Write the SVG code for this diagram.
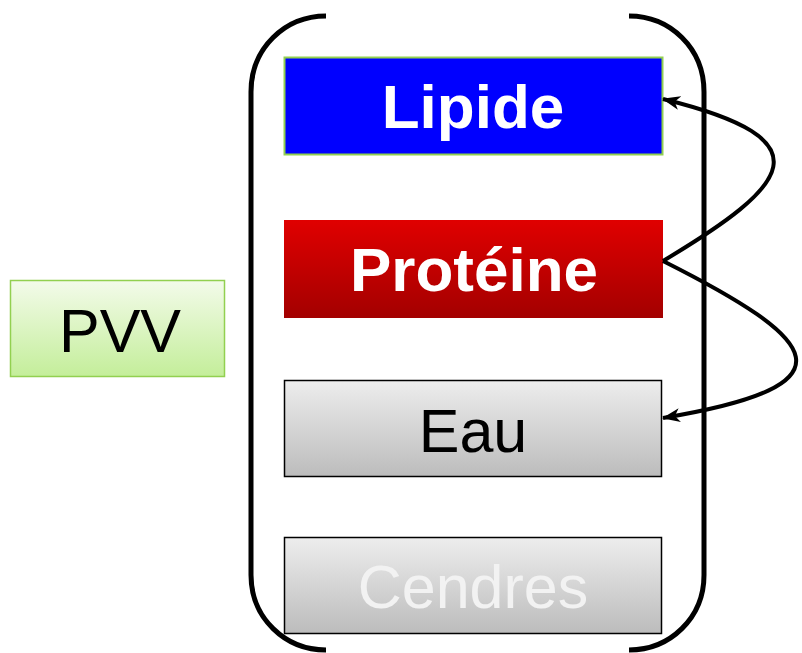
<svg xmlns="http://www.w3.org/2000/svg" width="802" height="653" viewBox="0 0 802 653">
<defs>
<linearGradient id="gRed" x1="0" y1="0" x2="0" y2="1"><stop offset="0" stop-color="#e00000"/><stop offset="1" stop-color="#a30000"/></linearGradient>
<linearGradient id="gGray" x1="0" y1="0" x2="0" y2="1"><stop offset="0" stop-color="#ededed"/><stop offset="1" stop-color="#bcbcbc"/></linearGradient>
<linearGradient id="gGreen" x1="0" y1="0" x2="0" y2="1"><stop offset="0" stop-color="#f3fbea"/><stop offset="1" stop-color="#c4ee9a"/></linearGradient>
<marker id="arr" viewBox="0 0 18 14" markerWidth="18" markerHeight="14" refX="17" refY="7" orient="auto" markerUnits="userSpaceOnUse"><path d="M0,0 L18,7 L0,14 L5,7 Z" fill="#000"/></marker>
<style>
text{font-family:"Liberation Sans",Arial,sans-serif;text-anchor:middle}
.b{font-weight:bold;font-size:62px;fill:#fff}
.r{font-size:61px}
.bracket{fill:none;stroke:#000;stroke-width:5}
.conn{fill:none;stroke:#000;stroke-width:4}
</style>
</defs>
<g id="brackets">
<path class="bracket" d="M326,16 C285,16 251,48 251,92 L251,575 C251,618 285,650 326,650"/>
<path class="bracket" d="M629,16 C670,16 704,48 704,92 L704,575 C704,618 670,650 629,650"/>
</g>
<g id="lipide">
<rect x="284.5" y="57.5" width="378" height="97" fill="#0000ff" stroke="#92d050" stroke-width="2"/>
<text class="b" x="473" y="128">Lipide</text>
</g>
<g id="proteine">
<rect x="284" y="220" width="379" height="98" fill="url(#gRed)"/>
<text class="b" x="474" y="291">Protéine</text>
</g>
<g id="eau">
<rect x="284.5" y="380.5" width="377" height="96" fill="url(#gGray)" stroke="#000" stroke-width="1.5"/>
<text class="r" x="473" y="452" fill="#000">Eau</text>
</g>
<g id="cendres">
<rect x="284.5" y="537.5" width="377" height="96" fill="url(#gGray)" stroke="#000" stroke-width="1.5"/>
<text class="r" x="473" y="608" fill="#f2f2f2">Cendres</text>
</g>
<g id="pvv">
<rect x="10.5" y="280.5" width="214" height="96" fill="url(#gGreen)" stroke="#92d050" stroke-width="1.5"/>
<text class="r" x="120" y="352" fill="#000">PVV</text>
</g>
<g id="connectors">
<path class="conn" d="M663,261 C790,185 830,140 663,99" marker-end="url(#arr)"/>
<path class="conn" d="M663,261 C820,340 860,385 663,418" marker-end="url(#arr)"/>
</g>
</svg>
